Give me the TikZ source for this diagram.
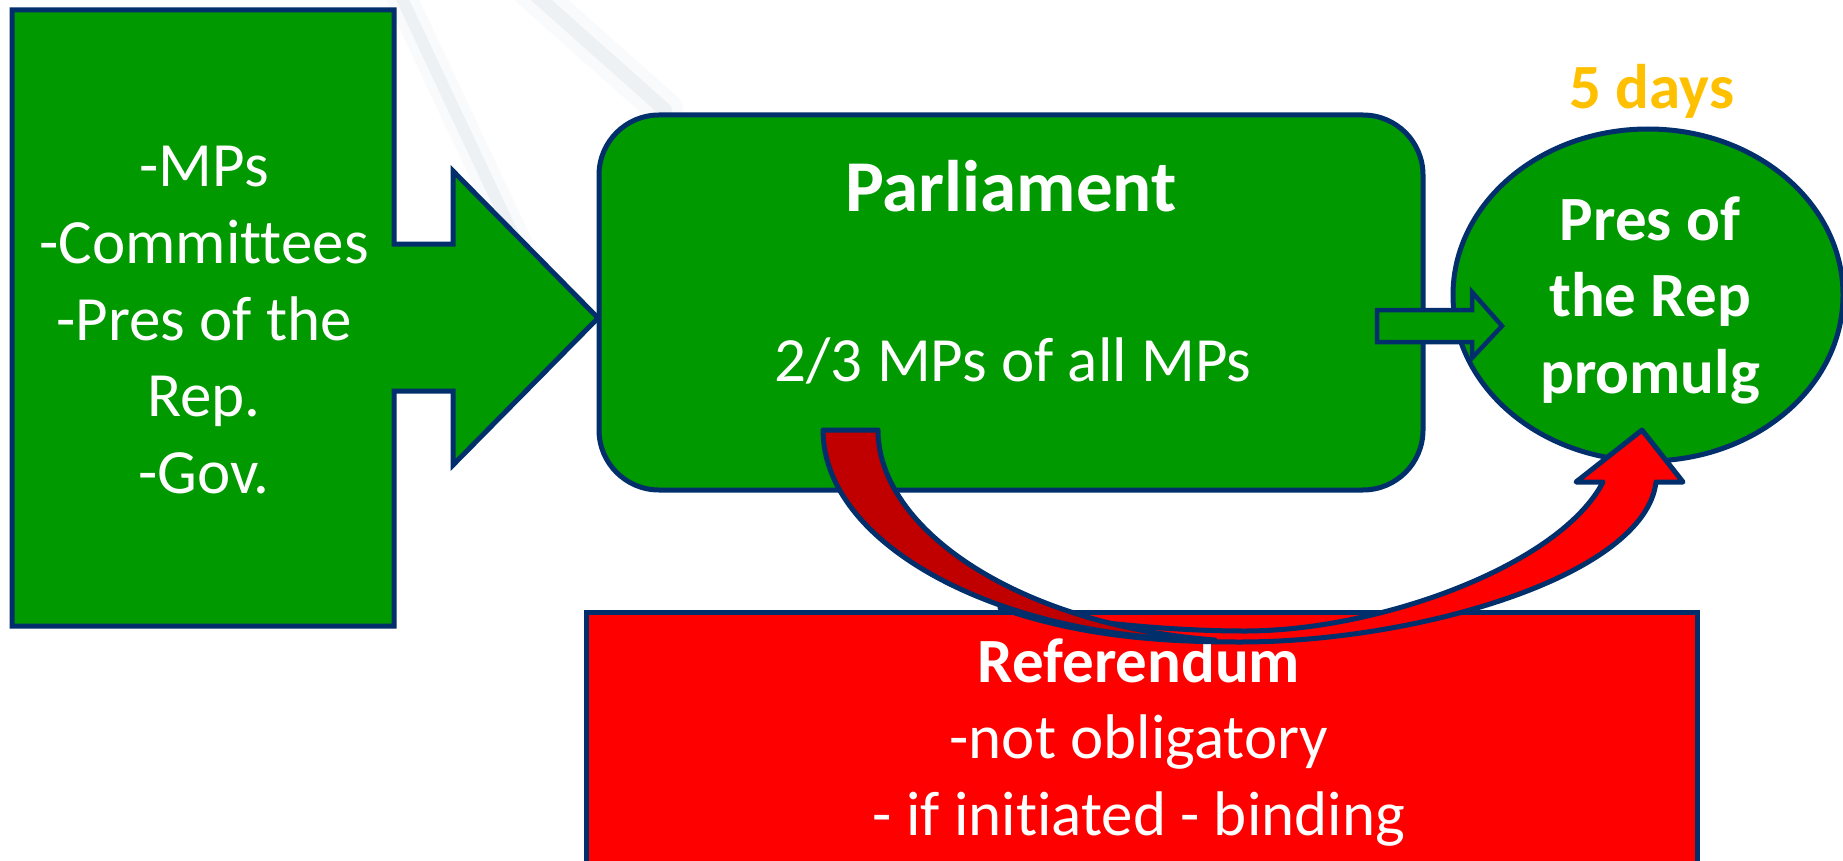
\documentclass[tikz,border=0pt]{standalone}
\usepackage{fontspec}
\setmainfont{Carlito}[Ligatures=NoCommon]
\usetikzlibrary{shapes.geometric}
\definecolor{navy}{HTML}{002F6C}
\definecolor{fgreen}{HTML}{009900}
\definecolor{dred}{HTML}{C00000}
\definecolor{bred}{HTML}{FF0000}
\definecolor{gold}{HTML}{FFC000}
\definecolor{streak}{HTML}{DCE2E9}
\begin{document}
\begin{tikzpicture}[x=1pt,y=-1pt,
  shapeline/.style={draw=navy,line width=5pt},
  txt/.style={text=white,inner sep=0pt,anchor=base},
  reg/.style={font=\fontsize{63}{76.7}\selectfont},
  bld/.style={font=\fontsize{63}{76.7}\selectfont\bfseries},
]
\path[use as bounding box, clip] (0,0) rectangle (1843,861);
\fill[white] (0,0) rectangle (1843,861);
% faint background streaks
\draw[streak, line width=30pt, line cap=round, opacity=0.15] (398,-10) -- (525,260);
\draw[streak, line width=12pt, line cap=round, opacity=0.35] (398,-10) -- (525,260);
\draw[streak, line width=36pt, line cap=round, opacity=0.15] (530,-10) -- (665,110);
\draw[streak, line width=14pt, line cap=round, opacity=0.35] (530,-10) -- (665,110);
% left callout
\draw[shapeline, fill=fgreen, line join=miter] (12,10) -- (394,10) -- (394,244) -- (453,244) -- (453,171) -- (598,318) -- (453,465) -- (453,391) -- (394,391) -- (394,626) -- (12,626) -- cycle;
\node[txt,reg] (src) at (204,186.6) {\begin{tabular}[t]{@{}c@{}}-MPs\\-Committees\\-Pres of the\\Rep.\\-Gov.\end{tabular}};
% parliament
\node[shapeline, fill=fgreen, rounded corners=60pt, minimum width=824pt, minimum height=375pt, inner sep=0pt] (parl) at (1011,302.5) {};
\node[txt, font=\fontsize{73}{88}\selectfont\bfseries] (parlT) at (1011,211.7) {Parliament};
\node[txt,reg] (parlS) at (1013,381.7) {2/3 MPs of all MPs};
% president
\node[shapeline, fill=fgreen, ellipse, minimum width=390pt, minimum height=332pt, inner sep=0pt] (pres) at (1648,295) {};
\node[txt,bld] (presT) at (1650,240) {\begin{tabular}[t]{@{}c@{}}Pres of\\the Rep\\promulg\end{tabular}};
\node[txt,bld,text=gold] (days) at (1652,108.3) {5 days};
% small arrow parliament -> president
\draw[shapeline, line width=4.5pt, fill=fgreen, line join=miter] (1377,310) -- (1472,310) -- (1472,292) -- (1502,326) -- (1472,358) -- (1472,342) -- (1377,342) -- cycle;
% referendum
\node[shapeline, fill=bred, minimum width=1111pt, minimum height=320pt, inner sep=0pt, anchor=north west] (ref) at (584,610) {};
\node[txt,reg] (refT) at (1139,682) {\begin{tabular}[t]{@{}c@{}}\textbf{Referendum}\\-not obligatory\\- if initiated - binding\end{tabular}};
% curved arrow: front band with head
\draw[shapeline, fill=bred, line join=round] (1000,608) .. controls (1080,636) and (1160,642) .. (1240,642) .. controls (1420,642) and (1645,575) .. (1656,482) -- (1683,482) -- (1642,430) -- (1576,482) -- (1603,482) .. controls (1560,565) and (1380,631) .. (1245,631) .. controls (1150,631) and (1060,618) .. (1000,608) -- cycle;
% curved arrow: back band (tail)
\draw[shapeline, fill=dred, line join=round] (823,430) -- (878,430) .. controls (878,530) and (1020,625) .. (1215,640) .. controls (1000,640) and (823,545) .. (823,430) -- cycle;
\end{tikzpicture}
\end{document}
